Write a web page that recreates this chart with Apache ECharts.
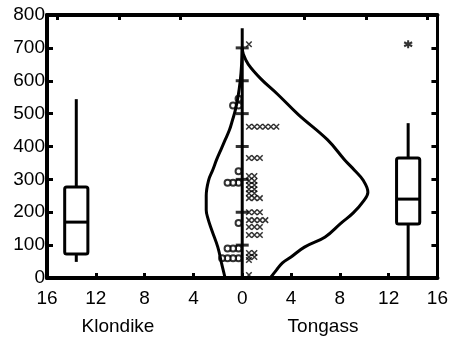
<!DOCTYPE html>
<html lang="en">
<head>
    <meta charset="UTF-8">
    <title>Klondike / Tongass</title>
    <style>
        html, body { margin: 0; padding: 0; background: #fff; }
        #main { width: 451px; height: 339px; }
    </style>
</head>
<body>
<div id="main"></div>
<script type="text/javascript" src="https://cdn.jsdelivr.net/npm/echarts@6/dist/echarts.min.js"></script>
<script type="text/javascript">
    // group names
    var groups = ['Klondike', 'Tongass'];

    // boxplot stats: [min, q1, median, q3, max]
    var klondikeBox = [49, 73, 170, 277, 544];
    var tongassBox = [0, 164, 240, 365, 471];
    var tongassOutliers = [711];

    // density curves: [value, density]
    var klondikeDensity = [
        [0, 1.4], [46, 1.7], [94, 2.0], [146, 2.5], [180, 2.8], [207, 2.95], [250, 2.95],
        [298, 2.75], [330, 2.4], [360, 2.1], [390, 1.75], [420, 1.4], [450, 1.05],
        [480, 0.8], [510, 0.57], [550, 0.35], [600, 0.16], [650, 0.05], [700, 0]
    ];
    var tongassDensity = [
        [0, 2.3], [24, 2.8], [46, 3.3], [64, 4.0], [94, 5.1], [125, 6.8], [167, 8.1],
        [198, 9.1], [237, 10.0], [261, 10.3], [298, 9.9], [328, 9.2], [359, 8.4],
        [420, 7.0], [497, 4.6], [559, 2.9], [605, 1.55], [650, 0.5], [680, 0.1], [700, 0]
    ];

    // individual observations (dot plot along the centre line)
    var klondikePoints = [60, 60, 60, 60, 90, 90, 90, 167, 290, 290, 290, 325, 525, 525, 545];
    var tongassPoints = [9, 55, 64, 64, 76, 76, 131, 131, 131, 155, 155, 155, 176, 176, 176, 176,
        200, 200, 200, 243, 243, 243, 258, 258, 270, 270, 283, 283, 295, 295, 310, 310,
        365, 365, 365, 460, 460, 460, 460, 460, 460, 711];

    // ticks
    var centerTicks = [100, 200, 300, 400, 500, 600, 700];
    var topTicks = [-15.2, -10.1, -5.1, 5.1, 10.2, 15.2];
    var centerTop = 760;

    var boxCenter = 13.6, boxHalf = 0.95;
    var dotStep = 0.45;
    var font = '"Liberation Sans", Arial, sans-serif';

    function stack(values, sign, start) {
        var seen = {};
        return values.map(function (v) {
            var k = seen[v] || 0;
            seen[v] = k + 1;
            return [sign * (start + k * dotStep), v];
        });
    }

    var chart = echarts.init(document.getElementById('main'));

    var boxData = [
        [-boxCenter].concat(klondikeBox),
        [boxCenter].concat(tongassBox)
    ];

    function renderBox(params, api) {
        var x = api.value(0);
        var pMin = api.coord([x, api.value(1)]);
        var pQ1 = api.coord([x, api.value(2)]);
        var pMed = api.coord([x, api.value(3)]);
        var pQ3 = api.coord([x, api.value(4)]);
        var pMax = api.coord([x, api.value(5)]);
        var left = api.coord([x - boxHalf, 0])[0];
        var right = api.coord([x + boxHalf, 0])[0];
        var st = {stroke: '#000', lineWidth: 3, fill: null, lineJoin: 'round'};
        return {
            type: 'group',
            children: [
                {type: 'line', shape: {x1: pMax[0], y1: pMax[1], x2: pQ3[0], y2: pQ3[1]}, style: st},
                {type: 'line', shape: {x1: pQ1[0], y1: pQ1[1], x2: pMin[0], y2: pMin[1]}, style: st},
                {type: 'rect', shape: {x: left, y: pQ3[1], width: right - left, height: pQ1[1] - pQ3[1], r: 2}, style: st},
                {type: 'line', shape: {x1: left, y1: pMed[1], x2: right, y2: pMed[1]}, style: st}
            ]
        };
    }

    var option = {
        backgroundColor: '#fff',
        animation: false,
        grid: {left: 47, right: 11, top: 15, bottom: 61},
        xAxis: [{
            type: 'value', min: -16, max: 16, interval: 4,
            axisLine: {onZero: false, lineStyle: {color: '#000', width: 4}},
            axisTick: {inside: true, length: 5, lineStyle: {color: '#000', width: 3}},
            axisLabel: {
                color: '#000', fontSize: 19, fontFamily: font, margin: 11,
                formatter: function (v) { return Math.abs(v); }
            },
            splitLine: {show: false}
        }, {
            type: 'value', position: 'top', min: -16, max: 16,
            axisLine: {onZero: false, lineStyle: {color: '#000', width: 4}},
            axisTick: {inside: true, length: 5, customValues: topTicks, lineStyle: {color: '#000', width: 3}},
            axisLabel: {show: false},
            splitLine: {show: false}
        }],
        yAxis: [{
            type: 'value', min: 0, max: 800, interval: 100,
            axisLine: {onZero: false, lineStyle: {color: '#000', width: 4}},
            axisTick: {inside: true, length: 6, lineStyle: {color: '#000', width: 3}},
            axisLabel: {color: '#000', fontSize: 19, fontFamily: font, margin: 2, padding: [6, 0, 0, 0]},
            splitLine: {show: false}
        }, {
            type: 'value', position: 'right', min: 0, max: 800, interval: 100,
            axisLine: {onZero: false, lineStyle: {color: '#000', width: 3}},
            axisTick: {inside: true, length: 6, lineStyle: {color: '#000', width: 3}},
            axisLabel: {show: false},
            splitLine: {show: false}
        }],
        graphic: [
            {type: 'text', x: 118, y: 327, style: {text: groups[0], font: '19px ' + font, fill: '#000', textAlign: 'center', textVerticalAlign: 'middle'}},
            {type: 'text', x: 323, y: 327, style: {text: groups[1], font: '19px ' + font, fill: '#000', textAlign: 'center', textVerticalAlign: 'middle'}}
        ],
        series: [
            {
                type: 'line', data: [[0, 0], [0, centerTop]], showSymbol: false,
                lineStyle: {color: '#000', width: 3}
            },
            {
                type: 'scatter', data: centerTicks.map(function (v) { return [0, v]; }),
                symbol: 'rect', symbolSize: [13, 3], itemStyle: {color: '#000'}
            },
            {
                type: 'line', smooth: 0.4, showSymbol: false,
                data: klondikeDensity.map(function (d) { return [-d[1], d[0]]; }),
                lineStyle: {color: '#000', width: 3}
            },
            {
                type: 'line', smooth: 0.4, showSymbol: false,
                data: tongassDensity.map(function (d) { return [d[1], d[0]]; }),
                lineStyle: {color: '#000', width: 3}
            },
            {
                type: 'custom', renderItem: renderBox, data: boxData,
                encode: {x: 0, y: [1, 2, 3, 4, 5]}
            },
            {
                type: 'scatter', data: tongassOutliers.map(function (v) { return [boxCenter, v]; }),
                symbol: 'path://M5,0L5,10M0.7,2.5L9.3,7.5M0.7,7.5L9.3,2.5', symbolSize: 8,
                itemStyle: {color: 'rgba(0,0,0,0)', borderColor: '#000', borderWidth: 2}
            },
            {
                type: 'scatter', data: stack(klondikePoints, -1, 0.3),
                symbol: 'emptyCircle', symbolSize: 6,
                itemStyle: {color: '#000', borderWidth: 1.2}
            },
            {
                type: 'scatter', data: stack(tongassPoints, 1, 0.55),
                symbol: 'path://M0,0L10,10M0,10L10,0', symbolSize: 5.5,
                itemStyle: {color: 'rgba(0,0,0,0)', borderColor: '#000', borderWidth: 1.5}
            }
        ]
    };
    chart.setOption(option);
</script>
</body>
</html>
